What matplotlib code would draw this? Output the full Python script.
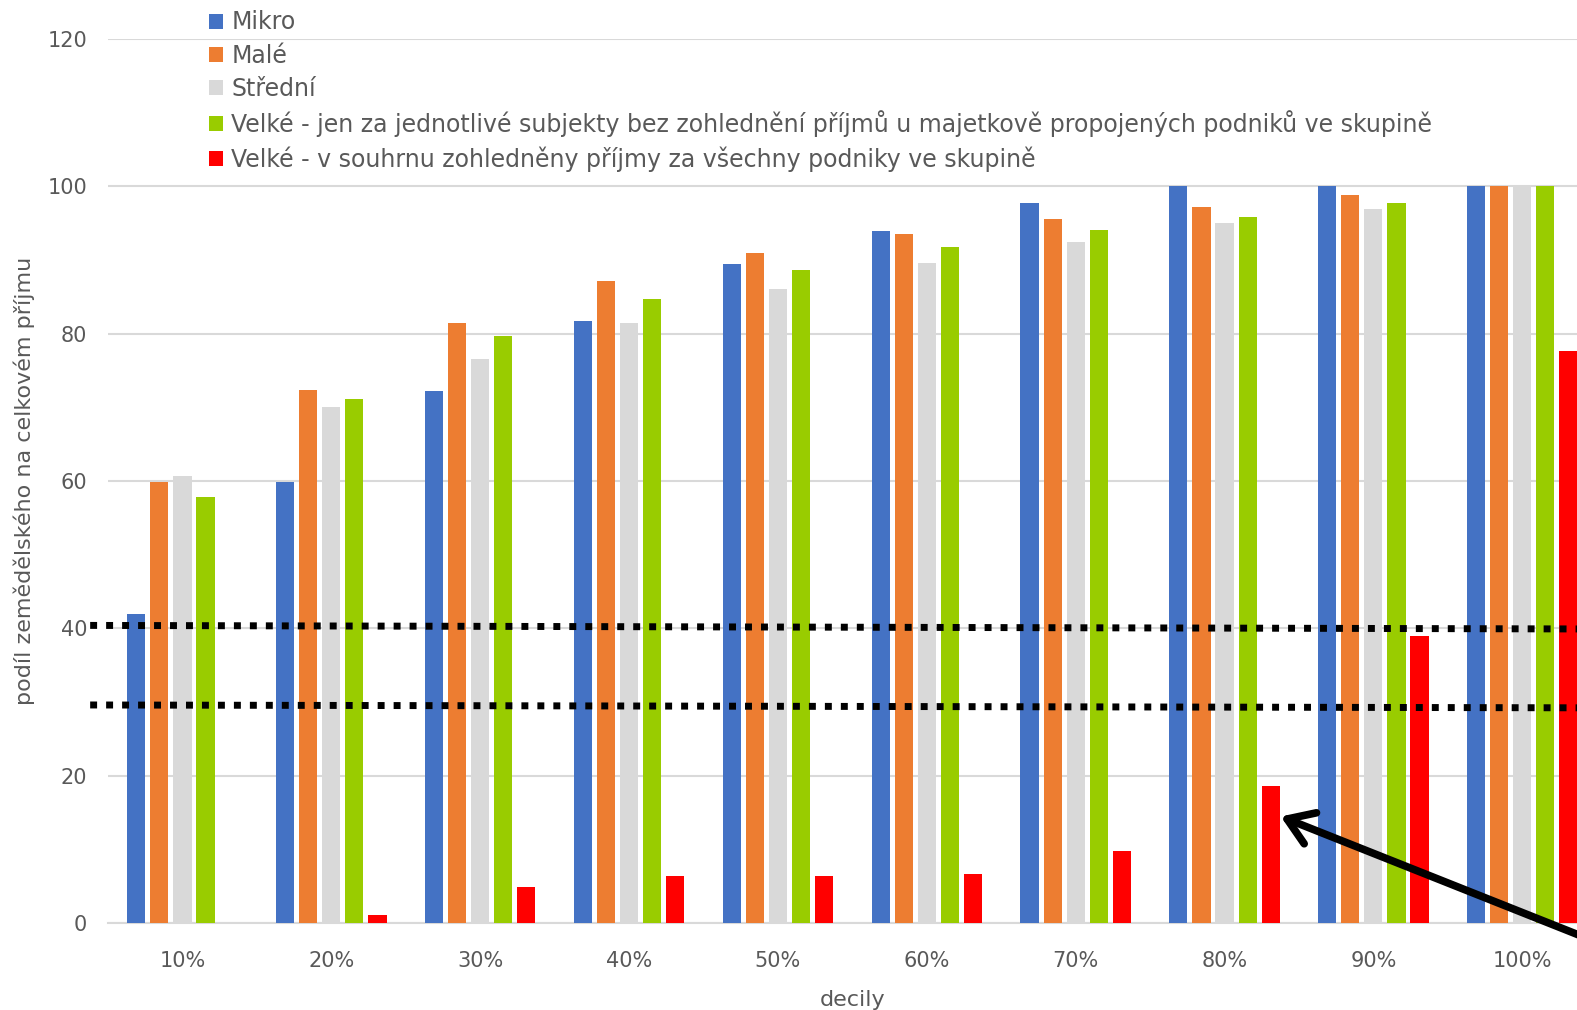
import numpy as np
import matplotlib.pyplot as plt

deciles = ["10%", "20%", "30%", "40%", "50%", "60%", "70%", "80%", "90%", "100%"]
series_names = [
    "Mikro",
    "Malé",
    "Střední",
    "Velké - jen za jednotlivé subjekty bez zohlednění příjmů u majetkově propojených podniků ve skupině",
    "Velké - v souhrnu zohledněny příjmy za všechny podniky ve skupině",
]
mikro = [41.9, 59.9, 72.2, 81.7, 89.4, 94.0, 97.7, 100, 100, 100]
male = [59.9, 72.3, 81.4, 87.2, 91.0, 93.5, 95.5, 97.2, 98.8, 100]
stredni = [60.7, 70.1, 76.5, 81.4, 86.1, 89.6, 92.5, 95.0, 96.9, 100]
velke_jen = [57.8, 71.1, 79.7, 84.7, 88.7, 91.7, 94.1, 95.9, 97.8, 100]
velke_souhrn = [0, 1.1, 4.9, 6.4, 6.4, 6.7, 9.8, 18.6, 39.0, 77.6]
colors = ["#4472C4", "#ED7D31", "#D9D9D9", "#99CC00", "#FF0000"]

# hand-drawn dotted lines (start, end values) and the arrow
line_upper = [40.4, 39.9]
line_lower = [29.6, 29.2]
line_x = [-0.62, 9.75]
arrow_tip = (7.36, 14.6)
arrow_tail = (9.75, -4.6)

fig = plt.figure(figsize=(15.77, 10.10), dpi=100)
ax = fig.add_axes([0.0685, 0.0861, 0.944, 0.8753])

x = np.arange(len(deciles))
pitch = 0.155
width = 0.122
all_series = [mikro, male, stredni, velke_jen, velke_souhrn]
for j, (vals, name, c) in enumerate(zip(all_series, series_names, colors)):
    ax.bar(x + (j - 2) * pitch, vals, width, color=c, label=name, zorder=3)

ax.set_xlim(-0.5, len(deciles) - 0.5)
ax.set_ylim(0, 120)
ax.set_yticks(range(0, 121, 20))
ax.set_xticks(x)
ax.set_xticklabels(deciles)
ax.grid(axis="y", color="#d9d9d9", lw=1.5, zorder=0)
for s in ["top", "right", "left"]:
    ax.spines[s].set_visible(False)
ax.spines["bottom"].set_color("#d9d9d9")
ax.spines["bottom"].set_linewidth(1.5)
ax.tick_params(length=0, labelsize=15, labelcolor="#595959")
ax.tick_params(axis="x", pad=20)
ax.tick_params(axis="y", pad=15)

ax.set_ylabel("podíl zemědělského na celkovém příjmu", fontsize=16, color="#595959", labelpad=9)
ax.set_xlabel("decily", fontsize=16, color="#595959", labelpad=14)

ax.plot(line_x, line_upper, color="black", lw=5, ls=(0, (1, 1.3)), clip_on=False, zorder=5)
ax.plot(line_x, line_lower, color="black", lw=5, ls=(0, (1, 1.3)), clip_on=False, zorder=5)

ax.annotate("", xy=arrow_tip, xytext=arrow_tail,
            arrowprops=dict(arrowstyle="->,head_length=0.45,head_width=0.3", color="black",
                            lw=5.5, mutation_scale=40, capstyle="round"),
            annotation_clip=False, zorder=6)

leg = ax.legend(loc="upper left", bbox_to_anchor=(0.122, 1.006), bbox_transform=fig.transFigure,
                frameon=False, fontsize=17, handlelength=0.6, handleheight=0.6,
                handletextpad=0.35, labelspacing=0.39, borderaxespad=0.3)
for t in leg.get_texts():
    t.set_color("#595959")

fig.savefig("out.png", dpi=100)
